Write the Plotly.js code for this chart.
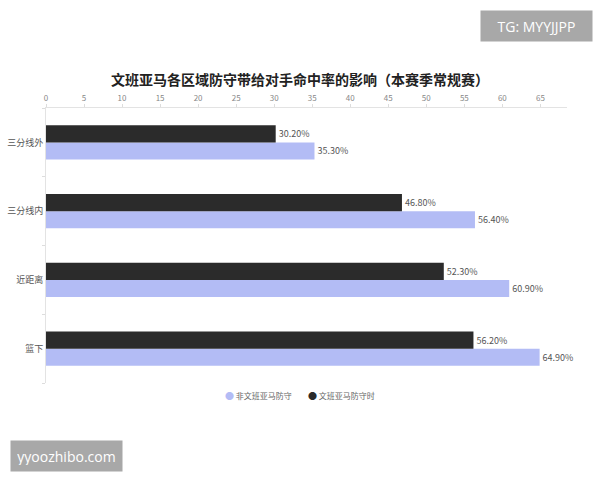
<!DOCTYPE html>
<html>
<head>
<meta charset="utf-8">
<script src="https://cdn.plot.ly/plotly-3.0.1.min.js"></script>
<style>
  html, body { margin: 0; padding: 0; background: #fff; }
  #chart { width: 600px; height: 480px; }
</style>
</head>
<body>
<div id="chart"></div>
<script>
// ── Data ──────────────────────────────────────────────────────────────────────
const zones      = ['三分线外', '三分线内', '近距离', '篮下'];
const offFgPct   = [35.3, 56.4, 60.9, 64.9];   // 非文班亚马防守
const wembyFgPct = [30.2, 46.8, 52.3, 56.2];   // 文班亚马防守时
const seriesNames = ['非文班亚马防守', '文班亚马防守时'];

const PURPLE = '#b3bcf5';
const BLACK  = '#2b2b2b';
const FONT   = "'Noto Sans CJK SC', 'Noto Sans', sans-serif";

// y axis runs bottom-up, so list the zones reversed to keep 三分线外 on top
const yOrder = zones.slice().reverse();

function barTrace(name, vals, color) {
  return {
    type: 'bar', orientation: 'h',
    y: zones, x: vals, name,
    marker: { color },
    text: vals.map(v => v.toFixed(2) + '%'),
    textposition: 'outside',
    textfont: { family: FONT, size: 9, color: '#555' },
    cliponaxis: false,
    showlegend: false,
  };
}

const traces = [
  barTrace(seriesNames[0], offFgPct, PURPLE),
  barTrace(seriesNames[1], wembyFgPct, BLACK),
];

// Plotly's own legend spaces items too wide here, so build a compact one
const dot = c => `<span style="color:${c};font-size:9px">●</span>`;
const gap = '&nbsp;'.repeat(9);
const legendText = `${dot(PURPLE)} ${seriesNames[0]}${gap}${dot(BLACK)} ${seriesNames[1]}`;

const watermark = (text, x, y, xanchor, yanchor) => ({
  text, x, y, xref: 'paper', yref: 'paper', xanchor, yanchor,
  showarrow: false,
  font: { family: "'Open Sans', sans-serif", size: 14, color: '#fff' },
  bgcolor: '#a8a8a8', borderpad: 6, width: 99, height: 18,
});

const layout = {
  width: 600, height: 480,
  margin: { l: 46, r: 33, t: 108, b: 97 },
  paper_bgcolor: '#fff', plot_bgcolor: '#fff',
  font: { family: FONT, color: '#555' },
  barmode: 'group', bargap: 0.5, bargroupgap: 0,
  title: {
    text: '<b>文班亚马各区域防守带给对手命中率的影响（本赛季常规赛）</b>',
    font: { family: FONT, size: 14, color: '#222' },
    x: 0.5, xanchor: 'center', y: 0.833, yanchor: 'middle',
  },
  xaxis: {
    side: 'top', range: [0, 68.5], dtick: 5,
    showgrid: false, zeroline: false,
    showline: true, linecolor: '#e3e3e3', linewidth: 1,
    ticks: 'outside', ticklen: 3, tickcolor: '#ddd',
    tickfont: { family: FONT, size: 8, color: '#888' },
  },
  yaxis: {
    type: 'category', categoryorder: 'array', categoryarray: yOrder,
    showgrid: false, zeroline: false,
    showline: true, linecolor: '#e3e3e3', linewidth: 1,
    ticks: 'outside', tickson: 'boundaries', ticklen: 3, tickcolor: '#ddd',
    tickfont: { family: FONT, size: 9, color: '#555' },
  },
  showlegend: false,
  annotations: [
    {
      text: legendText, x: 0.4875, y: -0.047, xref: 'paper', yref: 'paper',
      xanchor: 'center', yanchor: 'middle', showarrow: false,
      font: { family: FONT, size: 8, color: '#666' },
    },
    watermark('TG: MYYJJPP', 1.050, 1.356, 'right', 'top'),
    watermark('yyoozhibo.com', -0.069, -0.207, 'left', 'top'),
  ],
};

Plotly.newPlot('chart', traces, layout, { displayModeBar: false, staticPlot: true });
</script>
</body>
</html>
